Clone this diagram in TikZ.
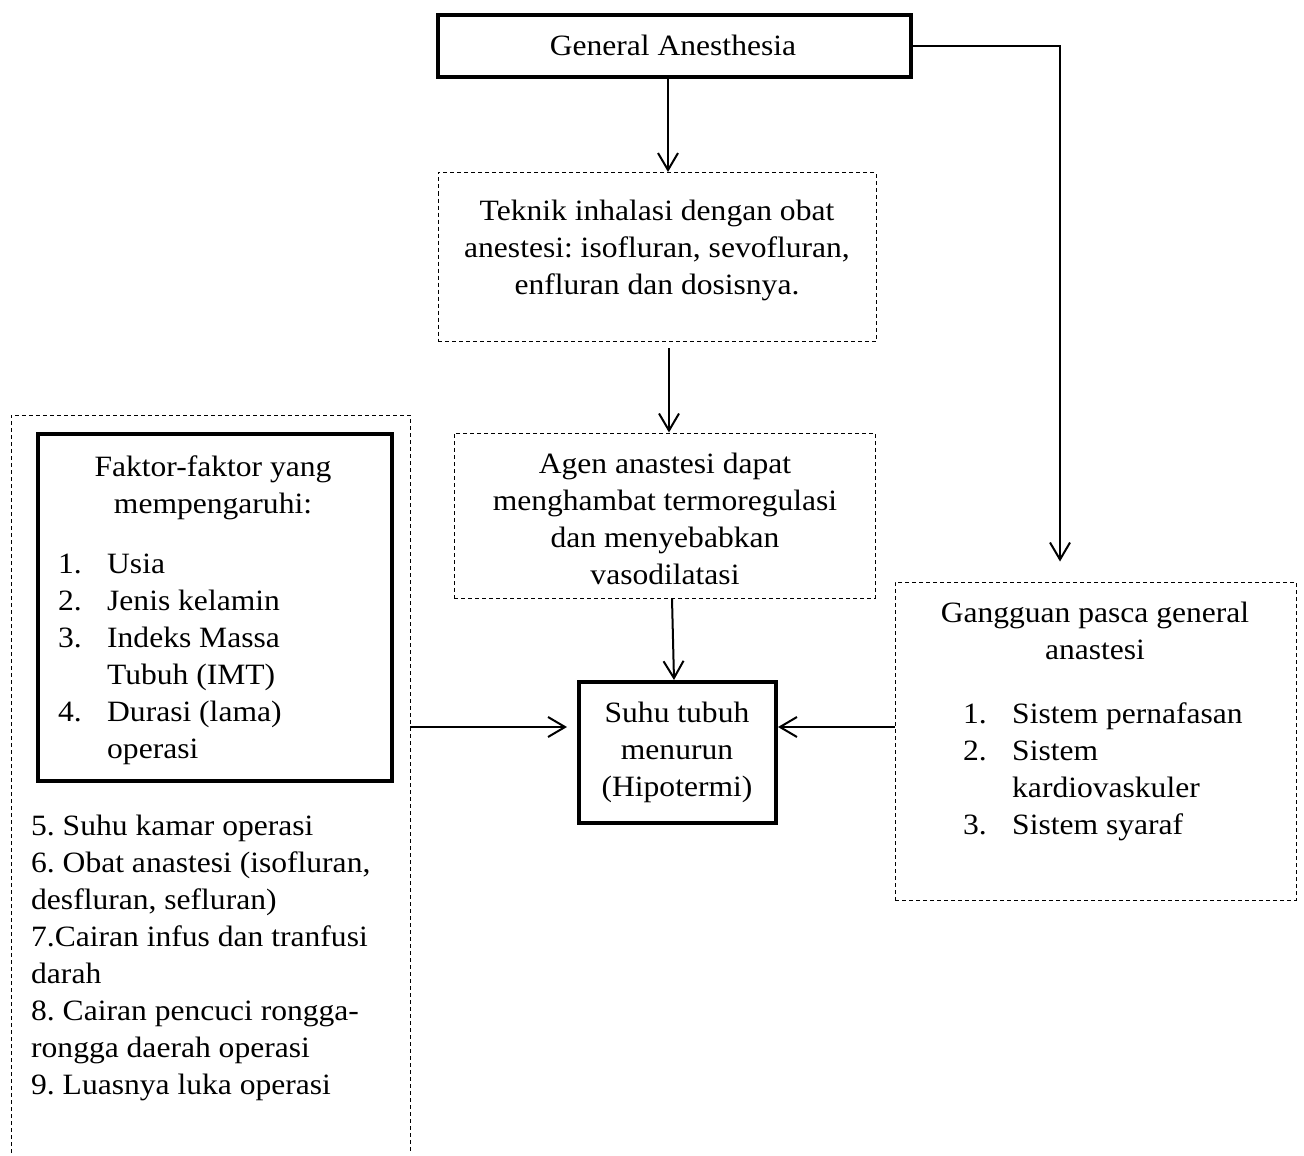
\documentclass[tikz,border=0pt]{standalone}
\usepackage{fontspec}
\setmainfont{Liberation Serif}[FakeStretch=1.07]
\usetikzlibrary{arrows.meta,calc}
\tikzset{
  thickbox/.style={draw, line width=4pt, inner sep=0pt},
  dashbox/.style={draw, line width=1pt, dash pattern=on 4pt off 3pt, inner sep=0pt},
  txt/.style={align=center, inner sep=0pt, font=\fontsize{29.5}{37}\selectfont},
  ltxt/.style={align=left, inner sep=0pt, font=\fontsize{29.5}{37}\selectfont},
  arr/.style={line width=2pt, -{Straight Barb[length=17pt,width=20pt,line width=2pt]}},
}
\newcommand{\itm}[1]{\makebox[49pt][l]{#1}}
\frenchspacing
\begin{document}
\begin{tikzpicture}[x=1pt,y=-1pt]
\useasboundingbox (0,0) rectangle (1304,1156);

% boxes
\node[thickbox, minimum width=473pt, minimum height=62pt] (ga) at (674.5,46) {};
\node[dashbox, minimum width=438pt, minimum height=169pt] (teknik) at (657,257) {};
\node[dashbox, minimum width=421pt, minimum height=165pt] (agen) at (664.5,515.5) {};
\node[thickbox, minimum width=197pt, minimum height=141pt] (suhu) at (677.5,752.5) {};
\node[dashbox, minimum width=401pt, minimum height=318pt] (gg) at (1095.5,741) {};
\node[inner sep=0pt, outer sep=0pt, minimum width=399pt, minimum height=738pt] (leftbox) at (210.5,784) {};
\draw[line width=1pt, dash pattern=on 4pt off 3pt] (leftbox.south west) -- (leftbox.north west) -- (leftbox.north east) -- (leftbox.south east);
\node[thickbox, minimum width=354pt, minimum height=347pt] (faktor) at (215,607.5) {};

% texts
\node[txt] (gaT) at (673,45) {General Anesthesia};
\node[txt] (teknikT) at (657,250) {Teknik inhalasi dengan obat\\anestesi: isofluran, sevofluran,\\enfluran dan dosisnya.};
\node[txt] (agenT) at (665,518.5) {Agen anastesi dapat\\menghambat termoregulasi\\dan menyebabkan\\vasodilatasi};
\node[txt] (suhuT) at (677,752) {Suhu tubuh\\menurun\\(Hipotermi)};
\node[txt] (ggT) at (1095,631) {Gangguan pasca general\\anastesi};
\node[ltxt, anchor=west] (ggL) at (963,772) {\itm{1.}Sistem pernafasan\\\itm{2.}Sistem\\\itm{}kardiovaskuler\\\itm{3.}Sistem syaraf};
\node[txt] (faktorT) at (213,488) {Faktor-faktor yang\\mempengaruhi:};
\node[ltxt, anchor=west] (faktorL) at (58,659.5) {\itm{1.}Usia\\\itm{2.}Jenis kelamin\\\itm{3.}Indeks Massa\\\itm{}Tubuh (IMT)\\\itm{4.}Durasi (lama)\\\itm{}operasi};
\node[ltxt, anchor=west] (lainL) at (31,958) {5. Suhu kamar operasi\\6. Obat anastesi (isofluran,\\desfluran, sefluran)\\7.Cairan infus dan tranfusi\\darah\\8. Cairan pencuci rongga-\\rongga daerah operasi\\9. Luasnya luka operasi};

% connectors
\draw[arr] ([xshift=-6.5pt]ga.south) -- ([xshift=11pt]teknik.north);
\draw[arr] ([xshift=12pt,yshift=-6pt]teknik.south) -- ([xshift=4.5pt]agen.north);
\draw[arr] ([xshift=7.5pt]agen.south) -- ([xshift=-3.5pt]suhu.north);
\coordinate (c2) at ([xshift=-35.5pt,yshift=20pt]gg.north);
\coordinate (c1) at (c2 |- ga.east);
\draw[arr] (ga.east) -- (c1) -- (c2);
\coordinate (sw) at ([yshift=25.5pt]suhu.west);
\draw[arr] (leftbox.east |- sw) -- ([xshift=-10pt]sw);
\draw[arr] (gg.west |- sw) -- (suhu.east |- sw);
\end{tikzpicture}
\end{document}
